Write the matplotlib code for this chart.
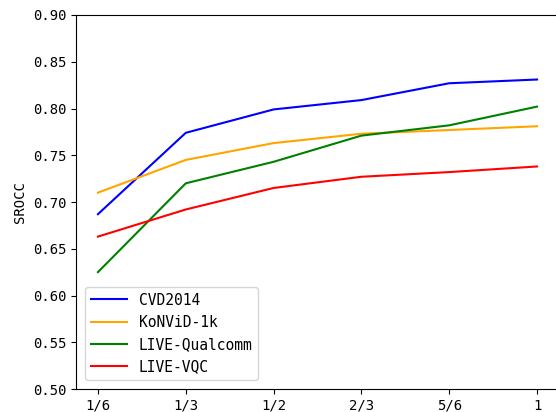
import numpy as np
import matplotlib
matplotlib.use('Agg')
import matplotlib.pyplot as plt

matplotlib.rcParams['font.family'] = ['DejaVu Sans Mono', 'Noto Sans CJK SC']
matplotlib.rcParams['font.size'] = 10

xtick = ['1/6', '1/3', '1/2', '2/3', '5/6', '1']

cvd2014 = [0.687, 0.774, 0.799, 0.809, 0.827, 0.831]
konvid = [0.710, 0.745, 0.763, 0.773, 0.777, 0.781]
live_qualcomm = [0.625, 0.720, 0.743, 0.771, 0.782, 0.802]
live_vqc = [0.663, 0.692, 0.715, 0.727, 0.732, 0.738]

labels = ['CVD2014', 'KoNViD-1k', 'LIVE-Qualcomm', 'LIVE-VQC']
colors = ['blue', 'orange', 'green', 'red']

fig = plt.figure(figsize=(5.56, 4.12), dpi=100)
# axes runs a little past the right edge, so the right spine is cut off
ax = fig.add_axes([0.1367, 0.0558, 0.8687, 0.9078])

x = np.arange(len(xtick))
for y, label, c in zip([cvd2014, konvid, live_qualcomm, live_vqc], labels, colors):
    ax.plot(x, y, color=c, label=label, linewidth=1.5)

ax.set_xlim(-0.25, 5.25)
ax.set_ylim(0.5, 0.9)
ax.set_yticks(np.arange(0.5, 0.901, 0.05))
ax.set_yticklabels(['%.2f' % v for v in np.arange(0.5, 0.901, 0.05)])
ax.set_xticks(x)
ax.set_xticklabels(xtick)
ax.set_ylabel('SROCC')
ax.spines['right'].set_visible(False)
ax.legend(loc='lower left', fontsize=10.5, handlelength=2.5, borderaxespad=0.6)

plt.savefig('out.png', dpi=100)
